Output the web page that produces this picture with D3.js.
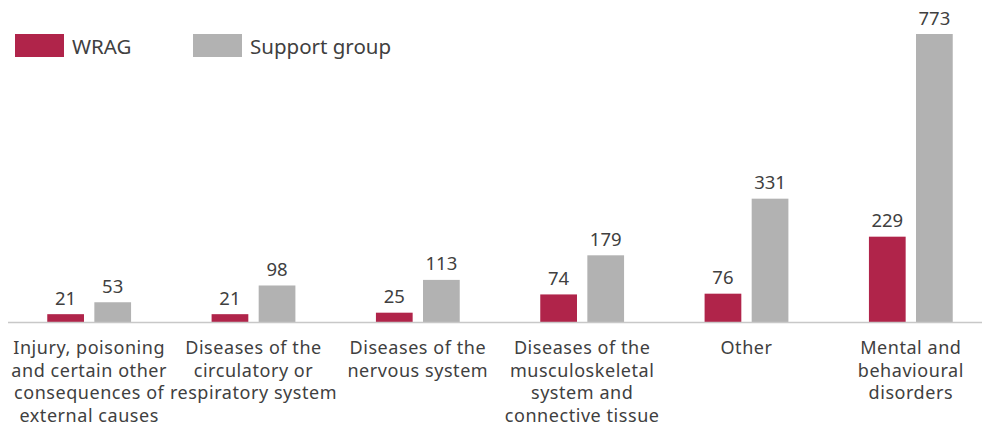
<!DOCTYPE html>
<html>
<head>
<meta charset="utf-8">
<script src="https://cdn.jsdelivr.net/npm/d3@7"></script>
<style>
  body { margin: 0; background: #fff; }
  svg { display: block; font-family: "Noto Sans", "Open Sans", sans-serif; }
</style>
</head>
<body>
<div id="chart"></div>
<script>
// categories (each label split into its lines)
const categories = [
  ["Injury, poisoning", "and certain other", "consequences of", "external causes"],
  ["Diseases of the", "circulatory or", "respiratory system"],
  ["Diseases of the", "nervous system"],
  ["Diseases of the", "musculoskeletal", "system and", "connective tissue"],
  ["Other"],
  ["Mental and", "behavioural", "disorders"]
];
const seriesNames = ["WRAG", "Support group"];
const wrag = [21, 21, 25, 74, 76, 229];
const support = [53, 98, 113, 179, 331, 773];
const colors = ["#b0244a", "#b2b2b2"];

const width = 983, height = 427;
const baseY = 322;

const svg = d3.select("#chart")
  .append("svg")
  .attr("width", width)
  .attr("height", height);

// scales
const x0 = d3.scaleBand()
  .domain(d3.range(categories.length))
  .range([7, 993])
  .paddingInner(0.49)
  .paddingOuter(0.245);

const x1 = d3.scaleBand()
  .domain(seriesNames)
  .range([0, x0.bandwidth()])
  .paddingInner(0.22);

const y = d3.scaleLinear()
  .domain([0, 773])
  .range([baseY, 34]);

const rows = categories.map((c, i) => ({
  i: i,
  values: [
    { name: seriesNames[0], v: wrag[i] },
    { name: seriesNames[1], v: support[i] }
  ]
}));

// bars
const groups = svg.selectAll("g.group")
  .data(rows)
  .enter()
  .append("g")
  .attr("class", "group")
  .attr("transform", d => `translate(${x0(d.i)},0)`);

groups.selectAll("rect")
  .data(d => d.values)
  .enter()
  .append("rect")
  .attr("x", d => x1(d.name))
  .attr("y", d => y(d.v))
  .attr("width", x1.bandwidth())
  .attr("height", d => baseY - y(d.v))
  .attr("fill", (d, j) => colors[j]);

groups.selectAll("text.val")
  .data(d => d.values)
  .enter()
  .append("text")
  .attr("class", "val")
  .attr("x", d => x1(d.name) + x1.bandwidth() / 2)
  .attr("y", d => y(d.v) - 9.5)
  .attr("text-anchor", "middle")
  .attr("font-size", "18.5px")
  .attr("fill", "#404040")
  .text(d => d.v);

// baseline
svg.append("line")
  .attr("x1", 8)
  .attr("x2", 982)
  .attr("y1", baseY + 0.5)
  .attr("y2", baseY + 0.5)
  .attr("stroke", "#c8c8c8")
  .attr("stroke-width", 1.6);

// category labels
const labels = svg.selectAll("text.cat")
  .data(categories)
  .enter()
  .append("text")
  .attr("class", "cat")
  .attr("text-anchor", "middle")
  .attr("font-size", "18px")
  .attr("letter-spacing", "0.55px")
  .attr("fill", "#404040");

labels.selectAll("tspan")
  .data((d, i) => d.map(line => ({ line, i })))
  .enter()
  .append("tspan")
  .attr("x", d => x0(d.i) + x0.bandwidth() / 2)
  .attr("y", (d, k) => 354 + k * 22.6)
  .text(d => d.line);

// legend
const legend = svg.selectAll("g.legend")
  .data(seriesNames)
  .enter()
  .append("g")
  .attr("class", "legend")
  .attr("transform", (d, i) => `translate(${15 + i * 178},34)`);

legend.append("rect")
  .attr("width", 49)
  .attr("height", 23)
  .attr("fill", (d, i) => colors[i]);

legend.append("text")
  .attr("x", 57)
  .attr("y", 20)
  .attr("font-size", "20.5px")
  .attr("fill", "#404040")
  .text(d => d);
</script>
</body>
</html>
